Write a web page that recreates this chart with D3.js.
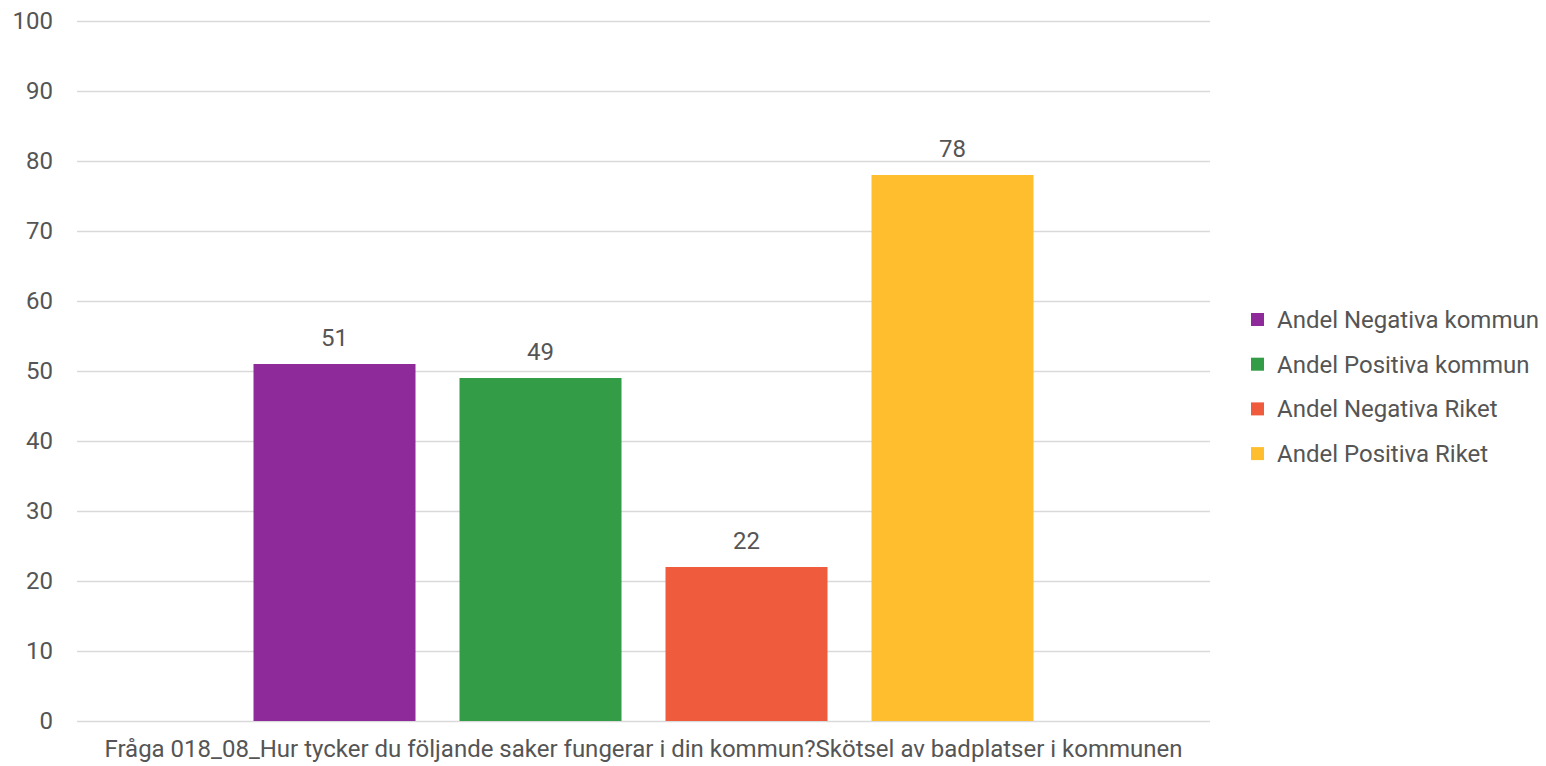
<!DOCTYPE html>
<html><head><meta charset="utf-8">
<script src="https://cdn.jsdelivr.net/npm/d3@7"></script>
<style>body{margin:0;background:#fff}svg{display:block;font-family:Roboto,"Noto Sans",sans-serif}</style>
</head><body>
<svg id="c" width="1546" height="766"></svg>
<script>
const categories = ["Fråga 018_08_Hur tycker du följande saker fungerar i din kommun?Skötsel av badplatser i kommunen"];
const seriesNames = ["Andel Negativa kommun","Andel Positiva kommun","Andel Negativa Riket","Andel Positiva Riket"];
const seriesValues = [51, 49, 22, 78];
const seriesColors = ["#8e2a9a","#339c47","#ef5b3d","#ffbe2e"];
const yTicks = [0,10,20,30,40,50,60,70,80,90,100];

(function(){
const svg = d3.select("#c");
const mLeft = 77, mRight = 1210, mTop = 21, mBottom = 721;
const txt = "#555555";
const fs = 24;

const y = d3.scaleLinear().domain([0,100]).range([mBottom, mTop]);
const x0 = d3.scaleBand().domain(categories).range([mLeft, mRight]).paddingInner(0).paddingOuter(0.2263);
const x1 = d3.scaleBand().domain(seriesNames).range([0, x0.bandwidth()]).paddingInner(0.2136).paddingOuter(0);

const yAxis = d3.axisLeft(y).tickValues(yTicks).tickSize(-(mRight-mLeft)).tickPadding(24).tickFormat(d3.format("d"));
const ga = svg.append("g").attr("transform",`translate(${mLeft},0)`).call(yAxis);
ga.select(".domain").remove();
ga.selectAll(".tick line").attr("stroke","#d9d9d9").attr("stroke-width",1.3);
ga.selectAll(".tick text").attr("fill",txt).attr("font-size",fs).attr("font-family","Roboto, sans-serif");

const g = svg.append("g");
categories.forEach(cat => {
  seriesNames.forEach((s,i) => {
    const bx = x0(cat) + x1(s);
    g.append("rect").attr("x",bx).attr("y",y(seriesValues[i]))
      .attr("width",x1.bandwidth()).attr("height",y(0)-y(seriesValues[i]))
      .attr("fill",seriesColors[i]);
    g.append("text").attr("x",bx + x1.bandwidth()/2).attr("y",y(seriesValues[i]) - 18)
      .attr("text-anchor","middle").attr("font-size",fs).attr("fill",txt).text(seriesValues[i]);
  });
  svg.append("text").attr("x",x0(cat)+x0.bandwidth()/2).attr("y",757)
    .attr("text-anchor","middle").attr("font-size",fs).attr("fill",txt).text(cat);
});

const lg = svg.append("g").attr("transform","translate(1251,319.5)");
seriesNames.forEach((s,i) => {
  const r = lg.append("g").attr("transform",`translate(0,${i*44.7})`);
  r.append("rect").attr("x",0).attr("y",-6.5).attr("width",13).attr("height",13).attr("fill",seriesColors[i]);
  r.append("text").attr("x",26).attr("y",8.5).attr("font-size",fs).attr("fill",txt).text(s);
});
})();
</script>
</body></html>
